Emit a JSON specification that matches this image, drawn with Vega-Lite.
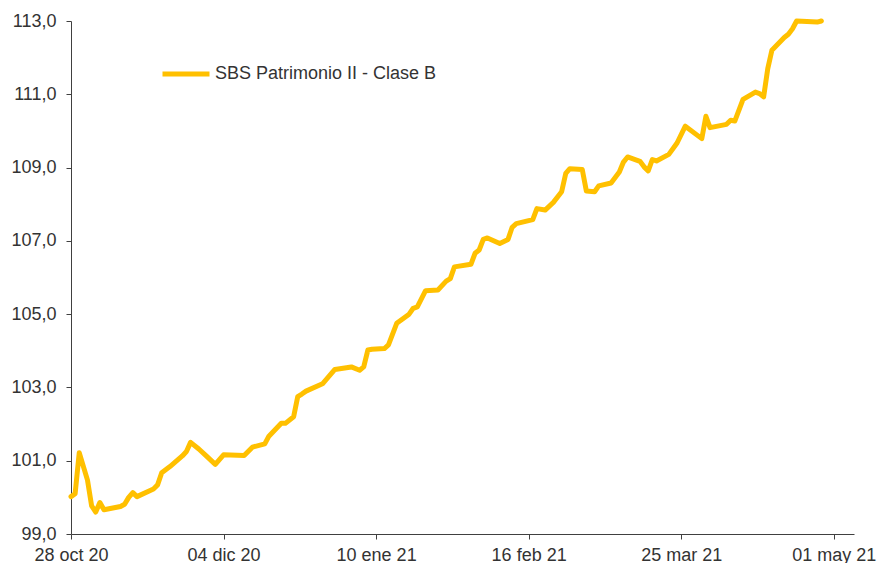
{
  "$schema": "https://vega.github.io/schema/vega-lite/v6.json",
  "width": 783,
  "height": 513,
  "autosize": "none",
  "padding": {"left": 71, "top": 21, "right": 23, "bottom": 29},
  "background": "white",
  "config": {
    "view": {"stroke": null},
    "font": "Liberation Sans",
    "locale": {
      "number": {"decimal": ",", "thousands": ".", "grouping": [3], "currency": ["", " €"]},
      "time": {
        "dateTime": "%A, %e de %B de %Y, %X",
        "date": "%d/%m/%Y",
        "time": "%H:%M:%S",
        "periods": ["AM", "PM"],
        "days": ["domingo", "lunes", "martes", "miércoles", "jueves", "viernes", "sábado"],
        "shortDays": ["dom", "lun", "mar", "mié", "jue", "vie", "sáb"],
        "months": ["enero", "febrero", "marzo", "abril", "mayo", "junio", "julio", "agosto", "septiembre", "octubre", "noviembre", "diciembre"],
        "shortMonths": ["ene", "feb", "mar", "abr", "may", "jun", "jul", "ago", "sep", "oct", "nov", "dic"]
      }
    },
    "axis": {
      "grid": false,
      "domainColor": "#404040",
      "tickColor": "#404040",
      "labelColor": "#333333",
      "labelFont": "Liberation Sans",
      "labelFontSize": 18,
      "tickSize": 5,
      "title": null
    }
  },
  "data": {
    "values": [
      {"date": "2020-10-28", "value": 100.02},
      {"date": "2020-10-29", "value": 100.10},
      {"date": "2020-10-30", "value": 101.22},
      {"date": "2020-11-01", "value": 100.47},
      {"date": "2020-11-02", "value": 99.77},
      {"date": "2020-11-03", "value": 99.60},
      {"date": "2020-11-04", "value": 99.86},
      {"date": "2020-11-05", "value": 99.66},
      {"date": "2020-11-09", "value": 99.75},
      {"date": "2020-11-10", "value": 99.81},
      {"date": "2020-11-11", "value": 100.00},
      {"date": "2020-11-12", "value": 100.13},
      {"date": "2020-11-13", "value": 100.02},
      {"date": "2020-11-17", "value": 100.23},
      {"date": "2020-11-18", "value": 100.34},
      {"date": "2020-11-19", "value": 100.67},
      {"date": "2020-11-21", "value": 100.84},
      {"date": "2020-11-24", "value": 101.13},
      {"date": "2020-11-25", "value": 101.25},
      {"date": "2020-11-26", "value": 101.50},
      {"date": "2020-11-28", "value": 101.32},
      {"date": "2020-11-30", "value": 101.11},
      {"date": "2020-12-02", "value": 100.90},
      {"date": "2020-12-04", "value": 101.16},
      {"date": "2020-12-09", "value": 101.14},
      {"date": "2020-12-11", "value": 101.37},
      {"date": "2020-12-14", "value": 101.46},
      {"date": "2020-12-15", "value": 101.67},
      {"date": "2020-12-18", "value": 102.02},
      {"date": "2020-12-19", "value": 102.02},
      {"date": "2020-12-21", "value": 102.20},
      {"date": "2020-12-22", "value": 102.75},
      {"date": "2020-12-23", "value": 102.82},
      {"date": "2020-12-24", "value": 102.90},
      {"date": "2020-12-28", "value": 103.10},
      {"date": "2020-12-31", "value": 103.49},
      {"date": "2021-01-04", "value": 103.56},
      {"date": "2021-01-06", "value": 103.47},
      {"date": "2021-01-07", "value": 103.56},
      {"date": "2021-01-08", "value": 104.02},
      {"date": "2021-01-09", "value": 104.04},
      {"date": "2021-01-12", "value": 104.06},
      {"date": "2021-01-13", "value": 104.16},
      {"date": "2021-01-15", "value": 104.75},
      {"date": "2021-01-18", "value": 105.00},
      {"date": "2021-01-19", "value": 105.16},
      {"date": "2021-01-20", "value": 105.20},
      {"date": "2021-01-22", "value": 105.64},
      {"date": "2021-01-25", "value": 105.66},
      {"date": "2021-01-27", "value": 105.90},
      {"date": "2021-01-28", "value": 105.97},
      {"date": "2021-01-29", "value": 106.29},
      {"date": "2021-02-02", "value": 106.36},
      {"date": "2021-02-03", "value": 106.66},
      {"date": "2021-02-04", "value": 106.75},
      {"date": "2021-02-05", "value": 107.04},
      {"date": "2021-02-06", "value": 107.08},
      {"date": "2021-02-09", "value": 106.93},
      {"date": "2021-02-11", "value": 107.04},
      {"date": "2021-02-12", "value": 107.37},
      {"date": "2021-02-13", "value": 107.47},
      {"date": "2021-02-17", "value": 107.58},
      {"date": "2021-02-18", "value": 107.88},
      {"date": "2021-02-20", "value": 107.84},
      {"date": "2021-02-22", "value": 108.05},
      {"date": "2021-02-24", "value": 108.34},
      {"date": "2021-02-25", "value": 108.84},
      {"date": "2021-02-26", "value": 108.97},
      {"date": "2021-03-01", "value": 108.95},
      {"date": "2021-03-02", "value": 108.36},
      {"date": "2021-03-04", "value": 108.34},
      {"date": "2021-03-05", "value": 108.50},
      {"date": "2021-03-08", "value": 108.58},
      {"date": "2021-03-10", "value": 108.88},
      {"date": "2021-03-11", "value": 109.15},
      {"date": "2021-03-12", "value": 109.29},
      {"date": "2021-03-15", "value": 109.17},
      {"date": "2021-03-16", "value": 109.02},
      {"date": "2021-03-17", "value": 108.91},
      {"date": "2021-03-18", "value": 109.22},
      {"date": "2021-03-19", "value": 109.18},
      {"date": "2021-03-22", "value": 109.36},
      {"date": "2021-03-24", "value": 109.67},
      {"date": "2021-03-26", "value": 110.13},
      {"date": "2021-03-30", "value": 109.79},
      {"date": "2021-03-31", "value": 110.40},
      {"date": "2021-04-01", "value": 110.09},
      {"date": "2021-04-05", "value": 110.18},
      {"date": "2021-04-06", "value": 110.29},
      {"date": "2021-04-07", "value": 110.27},
      {"date": "2021-04-09", "value": 110.86},
      {"date": "2021-04-12", "value": 111.06},
      {"date": "2021-04-13", "value": 111.02},
      {"date": "2021-04-14", "value": 110.93},
      {"date": "2021-04-15", "value": 111.70},
      {"date": "2021-04-16", "value": 112.20},
      {"date": "2021-04-19", "value": 112.55},
      {"date": "2021-04-20", "value": 112.64},
      {"date": "2021-04-21", "value": 112.79},
      {"date": "2021-04-22", "value": 113.00},
      {"date": "2021-04-27", "value": 112.97},
      {"date": "2021-04-28", "value": 113.00}
    ]
  },
  "mark": {"type": "line", "strokeWidth": 5, "strokeJoin": "round", "strokeCap": "round"},
  "encoding": {
    "x": {
      "field": "date",
      "type": "temporal",
      "scale": {
        "type": "utc",
        "domain": [
          {"year": 2020, "month": 10, "date": 28, "utc": true},
          {"year": 2021, "month": 5, "date": 5, "hours": 22, "utc": true}
        ]
      },
      "axis": {
        "values": [
          {"year": 2020, "month": 10, "date": 28, "utc": true},
          {"year": 2020, "month": 12, "date": 4, "utc": true},
          {"year": 2021, "month": 1, "date": 10, "utc": true},
          {"year": 2021, "month": 2, "date": 16, "utc": true},
          {"year": 2021, "month": 3, "date": 25, "utc": true},
          {"year": 2021, "month": 5, "date": 1, "utc": true}
        ],
        "labelExpr": "utcFormat(datum.value, '%d %b %y')",
        "labelPadding": 7,
        "labelOverlap": false,
        "labelFlush": false
      }
    },
    "y": {
      "field": "value",
      "type": "quantitative",
      "scale": {"domain": [99, 113], "nice": false, "zero": false},
      "axis": {
        "values": [99, 101, 103, 105, 107, 109, 111, 113],
        "format": ".1f",
        "labelPadding": 10
      }
    },
    "color": {
      "datum": "SBS Patrimonio II - Clase B",
      "type": "nominal",
      "scale": {"range": ["#FFC000"]},
      "legend": {
        "title": null,
        "orient": "none",
        "legendX": 89,
        "legendY": 27,
        "symbolType": "stroke",
        "symbolSize": 2209,
        "symbolStrokeWidth": 5,
        "labelFontSize": 18,
        "labelColor": "#333333",
        "labelFont": "Liberation Sans",
        "labelOffset": 3,
        "labelLimit": 0,
        "padding": 0
      }
    }
  }
}
